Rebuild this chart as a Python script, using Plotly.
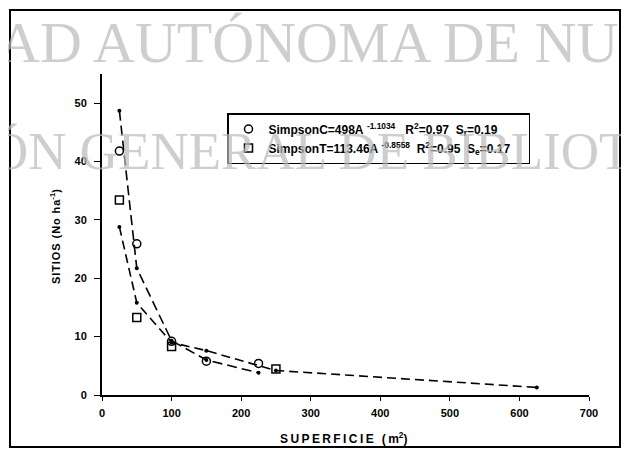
import plotly.graph_objects as go

# observed diversity values (circles = SimpsonC, squares = SimpsonT)
area_c = [25, 50, 100, 150, 225]
simpson_c = [41.8, 25.9, 9.2, 5.8, 5.4]
area_t = [25, 50, 100, 250]
simpson_t = [33.4, 13.3, 8.3, 4.45]

# fitted curves
fit_area_c = [25, 50, 100, 150, 225]
fit_c = [48.7, 21.7, 9.3, 6.0, 3.8]
fit_area_t = [25, 50, 100, 150, 250, 625]
fit_t = [28.8, 15.8, 9.0, 7.6, 4.2, 1.3]

x_ticks = [0, 100, 200, 300, 400, 500, 600, 700]
y_ticks = [0, 10, 20, 30, 40, 50]

# page has an 8px body margin, so the figure is a bit smaller than the window
OFF = 8
W, H = 613, 440
L, R, T, B = 94, 32, 66, 53


def px(x):
    # page pixel -> paper x
    return (x - OFF - L) / (W - L - R)


def py(y):
    # page pixel -> paper y
    return (H - B - (y - OFF)) / (H - T - B)


def spaced(s, gap="\u200a"):
    # the scanned titles are letter-spaced
    return gap.join(s)


bold = dict(family="Liberation Sans, Arial", size=11, color="black", weight="bold")
nb = "&nbsp;"

fig = go.Figure()

fig.add_trace(go.Scatter(
    x=fit_area_c, y=fit_c, mode="lines+markers", showlegend=False,
    line=dict(color="black", width=1.6, dash="10px,5px"),
    marker=dict(color="black", size=4, symbol="circle")
))
fig.add_trace(go.Scatter(
    x=fit_area_t, y=fit_t, mode="lines+markers", showlegend=False,
    line=dict(color="black", width=1.6, dash="9px,5px"),
    marker=dict(color="black", size=4, symbol="circle")
))

fig.add_trace(go.Scatter(
    x=area_c, y=simpson_c, mode="markers",
    name="SimpsonC=498A" + nb + "<sup>-1.1034</sup>" + nb * 3 + "R<sup>2</sup>=0.97"
         + nb * 2 + "S<sub>r</sub>=0.19" + nb * 4,
    marker=dict(symbol="circle-open", size=8, color="black", line=dict(width=1.5))
))
fig.add_trace(go.Scatter(
    x=area_t, y=simpson_t, mode="markers",
    name="SimpsonT=113.46A" + nb + "<sup>-0.8558</sup>" + nb * 2 + "R<sup>2</sup>=0.95"
         + nb * 2 + "S<sub>e</sub>=0.17" + nb * 4,
    marker=dict(symbol="square-open", size=8, color="black", line=dict(width=1.5))
))

# watermark of the scanned page
wm_font = dict(family="Liberation Serif, Times New Roman", color="rgba(185,185,185,0.7)",
               weight="normal")
fig.add_annotation(text="AD AUTÓNOMA DE NU", xref="paper", yref="paper",
                   x=px(308), y=py(42), xanchor="center", yanchor="middle",
                   showarrow=False, font=dict(size=58, **wm_font))
fig.add_annotation(text="ÓN GENERAL DE BIBLIOT", xref="paper", yref="paper",
                   x=px(310), y=py(151), xanchor="center", yanchor="middle",
                   showarrow=False, font=dict(size=53, **wm_font))

# axis titles
fig.add_annotation(text=spaced("SITIOS (No ha") + "<sup>-1</sup>)", xref="paper", yref="paper",
                   x=px(55), y=py(237), xanchor="center", yanchor="middle",
                   textangle=-90, showarrow=False, font=bold)
fig.add_annotation(text=spaced("SUPERFICIE (m", "\u2009") + "<sup>2</sup>)",
                   xref="paper", yref="paper",
                   x=px(344), y=py(438), xanchor="center", yanchor="middle",
                   showarrow=False, font=dict(bold, size=12))

# page frame
fig.add_shape(type="rect", xref="paper", yref="paper",
              x0=px(10), x1=px(620), y0=py(10), y1=py(447),
              line=dict(color="black", width=2))

fig.update_layout(
    width=W, height=H, autosize=False,
    margin=dict(l=L, r=R, t=T, b=B),
    plot_bgcolor="white", paper_bgcolor="white",
    font=bold,
    legend=dict(
        x=px(227), y=py(113), xanchor="left", yanchor="top",
        bordercolor="black", borderwidth=1.5, bgcolor="white",
        font=dict(bold, size=12),
        tracegroupgap=0
    ),
    xaxis=dict(
        range=[0, 700], tickvals=x_ticks,
        showline=True, linecolor="black", linewidth=2, showgrid=False, zeroline=False,
        ticks="outside", ticklen=4, tickcolor="black", tickfont=bold,
        ticklabelstandoff=3
    ),
    yaxis=dict(
        range=[0, 55], tickvals=y_ticks,
        showline=True, linecolor="black", linewidth=2, showgrid=False, zeroline=False,
        ticks="outside", ticklen=6, tickcolor="black", tickfont=bold,
        ticklabelstandoff=5
    )
)

fig.write_html("out.html")
